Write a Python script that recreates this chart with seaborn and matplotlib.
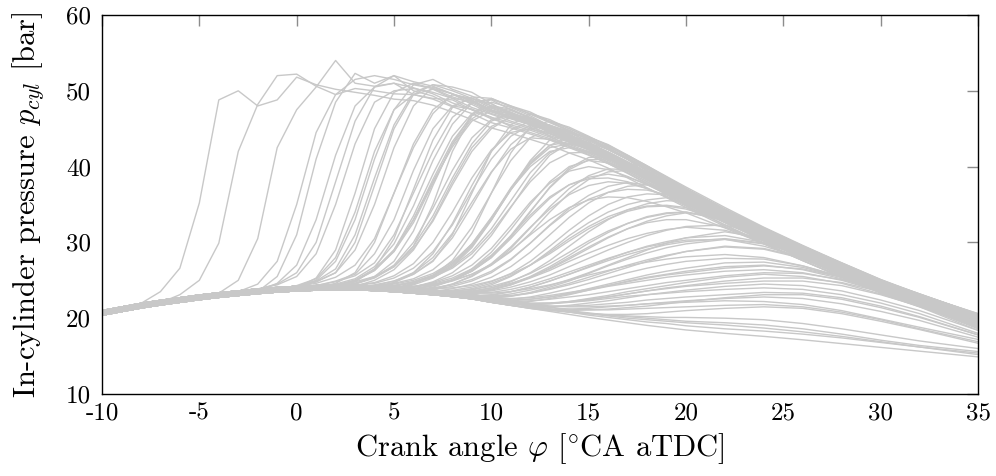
import matplotlib
matplotlib.use("Agg")
import matplotlib.pyplot as plt
import pandas as pd
import seaborn as sns

# crank angle grid [°CA aTDC]
CRANK_ANGLE = [-10, -8, -7, -6, -5, -4, -3, -2, -1, 0, 1, 2, 3, 4, 5, 6, 7, 8, 9, 10,
               11, 12, 13, 14, 15, 16, 17, 18, 19, 20, 22, 24, 26, 28, 30, 32, 35]

# in-cylinder pressure traces [bar], one list per cycle
P01 = [21.0, 21.95, 23.5, 26.6, 35.2, 48.8, 50.0, 48.0, 48.8, 51.8, 50.8, 50.2, 49.8, 49.4, 48.9, 48.7, 48.1, 47.2, 46.2, 45.1, 44.4, 43.6, 42.8, 41.8, 40.9, 39.8, 38.5, 37.2, 35.9, 34.6, 32.1, 29.8, 27.6, 25.5, 23.5, 21.8, 19.5]
P02 = [20.7, 21.65, 22.05, 23.1, 25.0, 29.9, 42.0, 48.2, 52.0, 52.2, 50.6, 49.5, 50.3, 50.0, 49.6, 49.5, 48.9, 47.9, 47.0, 45.8, 45.1, 44.3, 43.5, 42.5, 41.5, 40.4, 39.2, 37.8, 36.5, 35.1, 32.7, 30.3, 28.1, 25.9, 23.9, 22.2, 19.8]
P03 = [20.4, 21.35, 21.75, 22.1, 22.45, 23.3, 25.0, 30.5, 42.5, 47.5, 50.5, 54.0, 51.0, 50.6, 51.0, 50.4, 49.6, 48.4, 47.5, 46.3, 45.5, 44.8, 43.9, 42.9, 42.0, 40.8, 39.6, 38.2, 36.9, 35.5, 33.0, 30.6, 28.4, 26.2, 24.1, 22.4, 20.0]
P04 = [20.7, 21.65, 22.05, 22.4, 22.75, 23.05, 23.5, 24.5, 27.5, 35.0, 44.5, 49.5, 51.5, 52.0, 51.5, 50.8, 50.3, 49.6, 48.2, 47.0, 46.3, 45.5, 44.6, 43.6, 42.6, 41.5, 40.2, 38.8, 37.4, 36.1, 33.5, 31.1, 28.8, 26.6, 24.5, 22.7, 20.3]
P05 = [20.4, 21.35, 21.75, 22.1, 22.45, 22.75, 23.0, 23.6, 24.6, 27.0, 33.0, 41.5, 48.0, 50.5, 51.0, 49.5, 50.2, 49.0, 48.6, 47.3, 46.5, 45.7, 44.8, 43.8, 42.8, 41.7, 40.4, 39.0, 37.6, 36.2, 33.7, 31.2, 29.0, 26.7, 24.6, 22.9, 20.4]
P06 = [21.0, 21.95, 22.35, 22.7, 23.05, 23.35, 23.6, 23.85, 24.4, 25.5, 28.5, 35.0, 43.0, 48.5, 50.0, 50.3, 49.8, 49.0, 47.8, 46.9, 46.0, 45.2, 44.4, 43.4, 42.4, 41.2, 40.0, 38.6, 37.2, 35.9, 33.3, 30.9, 28.7, 26.4, 24.4, 22.6, 20.2]
P07 = [20.7, 21.65, 22.05, 22.4, 22.75, 23.05, 23.3, 23.55, 23.75, 24.3, 25.2, 28.0, 34.0, 42.0, 47.5, 49.5, 49.0, 48.8, 47.5, 46.5, 45.3, 44.5, 43.7, 42.7, 41.8, 40.6, 39.4, 38.0, 36.7, 35.3, 32.8, 30.4, 28.2, 26.0, 24.0, 22.3, 19.9]
P08 = [20.4, 21.35, 21.75, 22.1, 22.45, 22.75, 23.0, 23.5, 25.5, 31.0, 41.0, 48.5, 52.3, 51.0, 52.0, 50.0, 49.3, 48.0, 47.6, 46.5, 45.8, 45.0, 44.1, 43.2, 42.2, 41.0, 39.8, 38.4, 37.1, 35.7, 33.2, 30.7, 28.5, 26.3, 24.3, 22.5, 20.1]
P09 = [21.0, 21.95, 22.35, 22.7, 23.05, 23.35, 23.6, 23.85, 24.05, 24.2, 24.8, 26.0, 30.0, 37.5, 45.0, 49.5, 50.8, 50.5, 49.8, 48.3, 47.0, 45.9, 45.0, 44.1, 43.1, 41.9, 40.6, 39.2, 37.8, 36.4, 33.9, 31.4, 29.1, 26.8, 24.8, 23.0, 20.5]
P10 = [20.4, 21.35, 21.75, 22.1, 22.45, 22.75, 23.0, 23.25, 23.45, 23.6, 24.0, 24.6, 26.0, 30.0, 36.5, 43.0, 47.5, 49.5, 49.0, 48.0, 47.2, 46.0, 44.4, 43.4, 42.4, 41.2, 40.0, 38.6, 37.2, 35.9, 33.3, 30.9, 28.7, 26.4, 24.4, 22.6, 20.2]
P11 = [20.7, 21.65, 22.05, 22.4, 22.75, 23.05, 23.3, 23.55, 23.75, 23.9, 24.3, 24.9, 25.8, 28.5, 33.0, 39.5, 45.0, 48.0, 49.0, 48.3, 46.8, 45.5, 44.0, 42.7, 41.8, 40.6, 39.4, 38.0, 36.7, 35.3, 32.8, 30.4, 28.2, 26.0, 24.0, 22.3, 19.9]
P12 = [21.0, 21.95, 22.35, 22.7, 23.05, 23.35, 23.6, 23.85, 24.05, 24.2, 24.3, 24.8, 25.6, 27.3, 31.0, 36.5, 42.0, 46.5, 48.5, 48.8, 47.5, 46.5, 45.4, 44.0, 42.8, 41.7, 40.4, 39.0, 37.6, 36.2, 33.7, 31.2, 29.0, 26.7, 24.6, 22.9, 20.4]
P13 = [20.4, 21.35, 21.75, 22.1, 22.45, 22.75, 23.0, 23.25, 23.45, 23.6, 23.7, 24.2, 24.9, 26.3, 29.0, 33.5, 39.0, 44.0, 47.0, 48.0, 47.6, 46.4, 45.2, 44.0, 42.4, 41.2, 40.0, 38.6, 37.2, 35.9, 33.3, 30.9, 28.7, 26.4, 24.4, 22.6, 20.2]
P14 = [20.7, 21.65, 22.05, 22.4, 22.75, 23.05, 23.3, 23.55, 23.75, 23.9, 24.0, 24.05, 24.6, 25.4, 27.0, 30.0, 34.5, 39.5, 43.8, 46.2, 47.0, 46.3, 45.3, 44.2, 43.0, 41.7, 40.2, 38.8, 37.4, 36.0, 33.4, 31.0, 28.7, 26.5, 24.4, 22.6, 20.1]
P15 = [21.0, 21.95, 22.35, 22.7, 23.05, 23.35, 23.6, 23.85, 24.05, 24.2, 24.3, 24.35, 24.8, 25.5, 26.8, 29.5, 35.0, 42.0, 46.8, 49.0, 48.0, 47.2, 45.9, 44.8, 43.6, 42.4, 41.1, 39.4, 38.0, 36.6, 34.0, 31.5, 29.3, 27.0, 24.9, 23.1, 20.6]
P16 = [20.4, 21.35, 21.75, 22.1, 22.45, 22.75, 23.0, 23.25, 23.45, 23.6, 23.7, 23.75, 23.75, 24.1, 24.7, 26.0, 28.5, 32.5, 37.5, 42.0, 44.8, 46.0, 45.5, 44.5, 43.3, 41.5, 40.0, 38.4, 37.1, 35.7, 33.2, 30.7, 28.5, 26.3, 24.3, 22.5, 20.1]
P17 = [20.7, 21.65, 22.05, 22.4, 22.75, 23.05, 23.3, 23.55, 23.75, 23.9, 24.0, 24.05, 24.05, 24.4, 24.9, 25.8, 27.5, 31.0, 36.5, 42.0, 45.5, 47.0, 46.2, 45.0, 43.8, 42.5, 41.0, 39.0, 37.4, 35.9, 33.1, 30.5, 28.1, 25.8, 23.7, 21.9, 19.3]
P18 = [21.0, 21.95, 22.35, 22.7, 23.05, 23.35, 23.6, 23.85, 24.05, 24.2, 24.3, 24.35, 24.35, 24.25, 24.6, 25.2, 26.4, 28.5, 32.0, 36.5, 40.8, 43.8, 45.0, 44.6, 43.6, 42.3, 41.0, 39.5, 38.0, 36.6, 34.0, 31.5, 29.2, 26.9, 24.8, 23.0, 20.5]
P19 = [20.4, 21.35, 21.75, 22.1, 22.45, 22.75, 23.0, 23.25, 23.45, 23.6, 23.7, 23.75, 23.75, 23.65, 24.0, 24.6, 25.6, 27.2, 29.8, 33.3, 37.0, 40.0, 42.0, 42.5, 42.0, 41.0, 39.8, 38.5, 37.1, 35.8, 33.2, 30.8, 28.5, 26.2, 24.1, 22.3, 19.8]
P20 = [20.4, 21.35, 21.75, 22.1, 22.45, 22.75, 23.0, 23.25, 23.45, 23.6, 23.7, 24.0, 24.5, 25.5, 27.5, 31.5, 37.5, 43.0, 46.8, 48.5, 47.8, 46.7, 45.4, 44.2, 43.0, 41.8, 40.4, 39.0, 37.6, 36.2, 33.6, 31.1, 28.9, 26.6, 24.5, 22.7, 20.3]
P21 = [20.7, 21.65, 22.05, 22.4, 22.75, 23.05, 23.3, 23.55, 23.75, 24.2, 24.8, 26.0, 29.0, 35.0, 42.5, 48.0, 50.5, 49.6, 48.8, 47.4, 46.4, 45.6, 44.7, 43.7, 42.7, 41.5, 40.2, 38.8, 37.4, 36.1, 33.5, 31.1, 28.8, 26.6, 24.5, 22.7, 20.3]
P22 = [20.7, 21.65, 22.05, 22.4, 22.75, 23.05, 23.3, 23.55, 23.75, 23.9, 24.0, 24.05, 24.05, 23.95, 24.3, 24.8, 25.6, 26.8, 28.8, 31.8, 35.5, 39.2, 41.8, 43.0, 42.4, 41.3, 40.0, 38.6, 37.2, 35.8, 33.2, 30.8, 28.5, 26.3, 24.2, 22.4, 20.0]
P23 = [20.4, 21.35, 21.75, 22.1, 22.45, 22.75, 23.0, 23.25, 23.45, 23.6, 23.7, 23.75, 23.75, 23.65, 23.5, 23.8, 24.3, 25.0, 26.2, 28.0, 30.7, 34.0, 37.3, 39.8, 41.2, 41.3, 40.5, 39.3, 38.0, 36.6, 33.9, 31.3, 28.9, 26.6, 24.4, 22.5, 20.0]
P24 = [21.0, 21.95, 22.35, 22.7, 23.05, 23.35, 23.6, 23.85, 24.05, 24.2, 24.3, 24.35, 24.35, 24.25, 24.1, 24.2, 24.5, 25.0, 25.8, 27.0, 28.8, 31.2, 34.0, 36.5, 38.3, 39.3, 39.5, 38.8, 37.7, 36.5, 33.9, 31.4, 29.0, 26.7, 24.6, 22.7, 20.1]
P25 = [20.7, 21.65, 22.05, 22.4, 22.75, 23.05, 23.3, 23.55, 23.75, 23.9, 24.0, 24.05, 24.05, 23.95, 23.8, 24.1, 24.7, 25.6, 27.0, 29.2, 32.2, 35.3, 37.8, 39.4, 40.0, 39.6, 38.7, 37.6, 36.4, 35.1, 32.6, 30.2, 27.9, 25.7, 23.6, 21.8, 19.4]
P26 = [20.4, 21.35, 21.75, 22.1, 22.45, 22.75, 23.0, 23.25, 23.45, 23.6, 23.7, 23.75, 23.75, 23.65, 23.5, 23.3, 23.5, 23.9, 24.5, 25.4, 26.8, 28.7, 31.0, 33.3, 35.2, 36.6, 37.4, 37.6, 37.2, 36.4, 34.0, 31.5, 29.1, 26.8, 24.6, 22.7, 20.0]
P27 = [21.0, 21.95, 22.35, 22.7, 23.05, 23.35, 23.6, 23.85, 24.05, 24.2, 24.3, 24.35, 24.35, 24.25, 24.5, 25.0, 25.9, 27.4, 29.8, 33.2, 37.2, 40.6, 42.8, 43.3, 42.4, 41.2, 39.8, 38.3, 36.9, 35.5, 32.9, 30.4, 28.1, 25.8, 23.7, 21.9, 19.3]
P28 = [20.7, 21.65, 22.05, 22.4, 22.75, 23.05, 23.3, 23.55, 23.75, 23.9, 24.0, 24.05, 24.05, 23.95, 23.8, 23.9, 24.3, 24.9, 25.8, 27.1, 28.9, 31.0, 33.0, 34.6, 35.6, 36.0, 35.9, 35.4, 34.7, 33.9, 31.9, 29.8, 27.8, 25.8, 23.8, 22.0, 19.4]
P29 = [20.4, 21.35, 21.75, 22.1, 22.45, 22.75, 23.0, 23.25, 23.45, 23.6, 23.7, 23.75, 23.75, 23.65, 23.5, 23.3, 23.1, 23.2, 23.5, 24.0, 24.8, 26.0, 27.6, 29.5, 31.4, 33.0, 34.3, 35.1, 35.5, 35.4, 33.8, 31.6, 29.4, 27.1, 24.9, 23.0, 20.2]
P30 = [21.0, 21.95, 22.35, 22.7, 23.05, 23.35, 23.6, 23.85, 24.05, 24.2, 24.3, 24.35, 24.35, 24.25, 24.1, 24.2, 24.6, 25.3, 26.5, 28.3, 30.8, 33.6, 36.0, 37.6, 38.4, 38.5, 38.0, 37.1, 36.0, 34.8, 32.3, 29.9, 27.6, 25.4, 23.3, 21.5, 19.0]
P31 = [20.7, 21.65, 22.05, 22.4, 22.75, 23.05, 23.3, 23.55, 23.75, 23.9, 24.0, 24.05, 24.05, 23.95, 23.8, 23.6, 23.4, 23.5, 23.6, 24.0, 24.6, 25.4, 26.5, 27.8, 29.2, 30.6, 31.8, 32.8, 33.5, 33.9, 33.2, 31.5, 29.5, 27.3, 25.1, 23.1, 20.2]
P32 = [20.4, 21.35, 21.75, 22.1, 22.45, 22.75, 23.0, 23.25, 23.45, 23.6, 23.7, 23.75, 23.75, 23.65, 23.5, 23.3, 23.1, 22.85, 22.7, 22.9, 23.2, 23.7, 24.3, 25.1, 26.0, 27.0, 28.0, 29.0, 29.9, 30.6, 31.4, 30.6, 29.0, 27.0, 24.9, 23.0, 20.0]
P33 = [21.0, 21.95, 22.35, 22.7, 23.05, 23.35, 23.6, 23.85, 24.05, 24.2, 24.3, 24.35, 24.35, 24.25, 24.1, 23.9, 23.9, 24.0, 24.3, 24.9, 25.8, 27.0, 28.5, 30.2, 31.8, 33.1, 34.1, 34.7, 34.8, 34.4, 32.8, 30.7, 28.6, 26.4, 24.3, 22.4, 19.6]
P34 = [20.7, 21.65, 22.05, 22.4, 22.75, 23.05, 23.3, 23.55, 23.75, 23.9, 24.0, 24.05, 24.05, 23.95, 23.8, 23.6, 23.4, 23.15, 22.85, 22.9, 23.0, 23.3, 23.8, 24.4, 25.1, 25.9, 26.7, 27.5, 28.2, 28.8, 29.5, 29.2, 28.0, 26.4, 24.5, 22.7, 19.8]
P35 = [20.4, 21.35, 21.75, 22.1, 22.45, 22.75, 23.0, 23.25, 23.45, 23.6, 23.7, 23.75, 23.75, 23.65, 23.5, 23.3, 23.1, 23.0, 23.2, 23.7, 24.4, 25.4, 26.6, 28.0, 29.4, 30.7, 31.8, 32.6, 33.0, 33.0, 32.0, 30.2, 28.2, 26.1, 24.0, 22.1, 19.2]
P36 = [21.0, 21.95, 22.35, 22.7, 23.05, 23.35, 23.6, 23.85, 24.05, 24.2, 24.3, 24.35, 24.35, 24.25, 24.1, 23.9, 23.7, 23.45, 23.3, 23.4, 23.8, 24.4, 25.2, 26.1, 27.0, 27.9, 28.7, 29.4, 29.9, 30.3, 30.4, 29.5, 28.0, 26.2, 24.2, 22.3, 19.3]
P37 = [20.4, 21.35, 21.75, 22.1, 22.45, 22.75, 23.0, 23.25, 23.45, 23.6, 23.7, 23.75, 23.75, 23.65, 23.5, 23.3, 23.1, 22.85, 22.55, 22.3, 22.3, 22.5, 22.8, 23.3, 23.9, 24.5, 25.1, 25.7, 26.2, 26.6, 27.3, 27.4, 26.7, 25.4, 23.8, 22.1, 19.4]
P38 = [20.7, 21.65, 22.05, 22.4, 22.75, 23.05, 23.3, 23.55, 23.75, 23.9, 24.0, 24.05, 24.05, 23.95, 23.8, 23.6, 23.4, 23.15, 22.85, 22.4, 22.0, 21.9, 22.0, 22.2, 22.5, 22.8, 23.2, 23.6, 24.0, 24.3, 24.9, 25.3, 25.3, 24.7, 23.5, 22.0, 19.0]
P39 = [20.4, 21.35, 21.75, 22.1, 22.45, 22.75, 23.0, 23.25, 23.45, 23.6, 23.7, 23.75, 23.75, 23.65, 23.5, 23.3, 23.1, 22.85, 22.55, 22.1, 21.7, 21.3, 21.1, 21.0, 21.1, 21.2, 21.4, 21.6, 21.9, 22.2, 22.7, 23.1, 23.1, 22.5, 21.4, 20.1, 17.8]
P40 = [21.0, 21.95, 22.35, 22.7, 23.05, 23.35, 23.6, 23.85, 24.05, 24.2, 24.3, 24.35, 24.35, 24.25, 24.1, 23.9, 23.7, 23.45, 23.15, 22.7, 22.6, 22.7, 23.0, 23.4, 23.8, 24.3, 24.8, 25.3, 25.7, 26.0, 26.6, 26.9, 26.5, 25.4, 23.8, 22.0, 18.9]
P41 = [20.7, 21.65, 22.05, 22.4, 22.75, 23.05, 23.3, 23.55, 23.75, 23.9, 24.0, 24.05, 24.05, 23.95, 23.8, 23.6, 23.4, 23.15, 22.85, 22.4, 22.0, 21.6, 21.2, 20.9, 20.6, 20.5, 20.5, 20.6, 20.8, 21.0, 21.3, 21.5, 21.3, 20.6, 19.6, 18.5, 16.7]
P42 = [20.4, 21.35, 21.75, 22.1, 22.45, 22.75, 23.0, 23.25, 23.45, 23.6, 23.7, 23.75, 23.75, 23.65, 23.5, 23.3, 23.1, 22.85, 22.55, 22.1, 21.7, 21.5, 21.5, 21.7, 22.0, 22.3, 22.7, 23.1, 23.4, 23.7, 24.2, 24.5, 24.3, 23.6, 22.4, 21.0, 18.4]
P43 = [21.0, 21.95, 22.35, 22.7, 23.05, 23.35, 23.6, 23.85, 24.05, 24.2, 24.3, 24.35, 24.35, 24.25, 24.1, 23.9, 23.7, 23.45, 23.15, 22.7, 22.3, 21.9, 21.6, 21.5, 21.5, 21.6, 21.7, 21.9, 22.0, 22.1, 22.3, 22.2, 21.8, 21.0, 19.9, 18.8, 17.2]
P44 = [20.7, 21.65, 22.05, 22.4, 22.75, 23.05, 23.3, 23.55, 23.75, 23.9, 24.0, 24.05, 24.05, 23.95, 23.8, 23.6, 23.4, 23.15, 22.85, 22.4, 22.2, 22.3, 22.5, 22.8, 23.1, 23.5, 23.9, 24.3, 24.7, 25.0, 25.6, 26.0, 25.9, 25.1, 23.8, 22.2, 19.3]
P45 = [20.4, 21.35, 21.75, 22.1, 22.45, 22.75, 23.0, 23.25, 23.45, 23.6, 23.7, 23.75, 23.75, 23.65, 23.5, 23.3, 23.1, 22.85, 22.55, 22.1, 21.7, 21.3, 20.9, 20.5, 20.1, 19.75, 19.4, 19.05, 18.75, 18.45, 18.0, 17.6, 17.15, 16.65, 16.15, 15.65, 14.9]
P46 = [20.7, 21.65, 22.05, 22.4, 22.75, 23.05, 23.3, 23.55, 23.75, 23.9, 24.0, 24.05, 24.05, 23.95, 23.8, 23.6, 23.4, 23.15, 22.85, 22.4, 22.0, 21.6, 21.2, 20.8, 20.4, 20.1, 19.8, 19.5, 19.3, 19.0, 18.6, 18.3, 17.9, 17.4, 16.8, 16.2, 15.4]
P47 = [21.0, 21.95, 22.35, 22.7, 23.05, 23.35, 23.6, 23.85, 24.05, 24.2, 24.3, 24.35, 24.35, 24.25, 24.1, 23.9, 23.7, 23.45, 23.15, 22.7, 22.3, 21.9, 21.5, 21.0, 20.7, 20.4, 20.2, 20.0, 19.8, 19.6, 19.4, 19.1, 18.6, 17.9, 17.1, 16.4, 15.6]
P48 = [20.4, 21.35, 21.75, 22.1, 22.45, 22.75, 23.0, 23.25, 23.45, 23.6, 23.7, 23.75, 23.75, 23.65, 23.5, 23.3, 23.1, 22.85, 22.55, 22.1, 21.7, 21.3, 21.0, 20.8, 20.6, 20.4, 20.3, 20.2, 20.1, 20.1, 20.0, 19.8, 19.3, 18.6, 17.8, 17.0, 16.0]
P49 = [20.4, 21.35, 21.75, 22.1, 22.45, 22.75, 23.0, 23.25, 23.45, 24.0, 25.3, 29.0, 36.5, 45.0, 49.8, 51.0, 50.3, 49.2, 48.4, 47.2, 46.4, 45.6, 44.7, 43.7, 42.7, 41.5, 40.2, 38.8, 37.4, 36.1, 33.5, 31.1, 28.8, 26.6, 24.5, 22.7, 20.3]
P50 = [21.0, 21.95, 22.35, 22.7, 23.05, 23.35, 23.6, 23.85, 24.05, 24.2, 24.6, 25.4, 27.0, 30.5, 36.5, 42.5, 47.0, 49.5, 48.7, 47.5, 46.6, 45.7, 44.6, 43.5, 42.5, 41.3, 40.0, 38.6, 37.2, 35.9, 33.3, 30.9, 28.6, 26.4, 24.3, 22.5, 20.1]
P51 = [20.7, 21.65, 22.05, 22.4, 22.75, 23.05, 23.3, 23.55, 23.75, 23.9, 24.0, 24.4, 25.0, 26.3, 28.8, 33.0, 38.0, 42.6, 46.0, 47.4, 47.0, 46.0, 44.9, 43.8, 42.6, 41.3, 39.9, 38.5, 37.1, 35.7, 33.1, 30.7, 28.4, 26.2, 24.2, 22.4, 19.9]
P52 = [20.4, 21.35, 21.75, 22.1, 22.45, 22.75, 23.0, 23.25, 23.45, 23.6, 23.7, 23.75, 24.2, 25.0, 26.4, 29.0, 33.0, 38.0, 42.5, 45.3, 46.5, 46.0, 45.0, 43.9, 42.8, 41.6, 40.3, 38.9, 37.5, 36.1, 33.5, 31.0, 28.7, 26.5, 24.4, 22.6, 20.1]
P53 = [21.0, 21.95, 22.35, 22.7, 23.05, 23.35, 23.6, 23.85, 24.05, 24.2, 24.3, 24.35, 24.35, 24.6, 25.3, 26.6, 28.8, 32.3, 36.8, 41.0, 44.0, 45.5, 45.1, 44.2, 43.1, 41.9, 40.6, 39.2, 37.8, 36.4, 33.8, 31.3, 29.0, 26.7, 24.6, 22.8, 20.3]
P54 = [20.7, 21.65, 22.05, 22.4, 22.75, 23.05, 23.3, 23.55, 23.75, 23.9, 24.0, 24.05, 24.05, 24.3, 24.9, 26.0, 28.0, 31.2, 35.3, 39.3, 42.3, 43.8, 43.6, 42.7, 41.6, 40.4, 39.1, 37.7, 36.3, 34.9, 32.3, 29.9, 27.6, 25.4, 23.4, 21.6, 19.1]
P55 = [20.4, 21.35, 21.75, 22.1, 22.45, 22.75, 23.0, 23.25, 23.45, 23.6, 23.7, 23.75, 23.75, 23.65, 23.9, 24.4, 25.3, 26.8, 29.3, 32.9, 37.0, 40.8, 43.5, 44.4, 43.9, 42.9, 41.5, 40.1, 38.6, 37.1, 34.4, 31.9, 29.5, 27.2, 25.0, 23.2, 20.5]
P56 = [21.0, 21.95, 22.35, 22.7, 23.05, 23.35, 23.6, 23.85, 24.05, 24.2, 24.3, 24.35, 24.35, 24.25, 24.3, 24.7, 25.4, 26.6, 28.5, 31.3, 34.7, 38.0, 40.5, 41.8, 41.9, 41.2, 40.1, 38.8, 37.4, 36.0, 33.4, 30.9, 28.5, 26.2, 24.1, 22.2, 19.6]
P57 = [20.4, 21.35, 21.75, 22.1, 22.45, 22.75, 23.0, 23.25, 23.45, 23.6, 23.7, 23.75, 23.75, 23.65, 23.5, 23.6, 24.1, 25.0, 26.5, 28.7, 31.7, 35.0, 38.0, 40.0, 40.8, 40.5, 39.6, 38.4, 37.1, 35.8, 33.2, 30.7, 28.3, 26.0, 23.9, 22.0, 19.4]
P58 = [20.7, 21.65, 22.05, 22.4, 22.75, 23.05, 23.3, 23.55, 23.75, 23.9, 24.0, 24.05, 24.05, 23.95, 23.8, 23.9, 24.3, 25.0, 26.2, 28.0, 30.5, 33.3, 35.8, 37.6, 38.6, 39.0, 38.6, 37.7, 36.6, 35.4, 32.8, 30.3, 27.9, 25.6, 23.5, 21.6, 19.0]
P59 = [21.0, 21.95, 22.35, 22.7, 23.05, 23.35, 23.6, 23.85, 24.05, 24.2, 24.3, 24.35, 24.35, 24.25, 24.1, 23.9, 24.0, 24.4, 25.1, 26.2, 27.8, 29.9, 32.2, 34.2, 35.7, 36.6, 37.0, 36.9, 36.3, 35.5, 33.3, 31.0, 28.7, 26.5, 24.3, 22.4, 19.7]
P60 = [20.4, 21.35, 21.75, 22.1, 22.45, 22.75, 23.0, 23.25, 23.45, 23.6, 23.7, 23.75, 23.75, 23.65, 23.5, 23.3, 23.3, 23.5, 23.9, 24.6, 25.6, 27.0, 28.7, 30.5, 32.1, 33.4, 34.3, 34.8, 34.9, 34.6, 33.0, 30.9, 28.7, 26.5, 24.4, 22.4, 19.5]
P61 = [20.7, 21.65, 22.05, 22.4, 22.75, 23.05, 23.3, 23.55, 23.75, 23.9, 24.0, 24.05, 24.05, 23.95, 23.8, 23.6, 23.4, 23.3, 23.4, 23.8, 24.4, 25.3, 26.3, 27.5, 28.6, 29.6, 30.5, 31.2, 31.7, 32.0, 31.6, 30.2, 28.4, 26.4, 24.4, 22.5, 19.6]
P62 = [21.0, 21.95, 22.35, 22.7, 23.05, 23.35, 23.6, 23.85, 24.05, 24.2, 24.3, 24.35, 24.35, 24.25, 24.1, 23.9, 23.7, 23.45, 23.3, 23.3, 23.5, 23.9, 24.4, 25.0, 25.7, 26.3, 26.9, 27.4, 27.8, 28.1, 28.4, 28.0, 26.9, 25.4, 23.7, 21.9, 19.0]
P63 = [20.4, 21.35, 21.75, 22.1, 22.45, 22.75, 23.0, 23.25, 23.45, 23.6, 23.7, 23.75, 23.75, 23.65, 23.5, 23.3, 23.1, 22.85, 22.8, 23.0, 23.5, 24.1, 24.9, 25.8, 26.7, 27.6, 28.4, 29.1, 29.7, 30.1, 30.5, 29.9, 28.5, 26.7, 24.7, 22.7, 19.6]
P64 = [20.7, 21.65, 22.05, 22.4, 22.75, 23.05, 23.3, 23.55, 23.75, 23.9, 24.0, 24.05, 24.05, 23.95, 23.8, 23.6, 23.4, 23.15, 22.85, 22.5, 22.4, 22.5, 22.8, 23.2, 23.7, 24.2, 24.6, 25.0, 25.4, 25.7, 26.2, 26.4, 26.0, 25.0, 23.5, 21.7, 18.6]
P65 = [21.0, 21.95, 22.35, 22.7, 23.05, 23.35, 23.6, 23.85, 24.05, 24.2, 24.3, 24.35, 24.35, 24.25, 24.1, 23.9, 23.7, 23.45, 23.15, 22.7, 22.3, 22.0, 22.0, 22.1, 22.3, 22.6, 22.9, 23.1, 23.3, 23.5, 23.8, 24.0, 23.8, 23.1, 22.0, 20.6, 18.0]
P66 = [20.4, 21.35, 21.75, 22.1, 22.45, 22.75, 23.0, 23.25, 23.45, 23.6, 23.7, 23.75, 23.75, 23.65, 23.5, 23.3, 23.1, 22.85, 22.55, 22.1, 21.7, 21.4, 21.2, 21.2, 21.3, 21.5, 21.7, 21.9, 22.1, 22.3, 22.6, 22.8, 22.6, 21.9, 20.9, 19.7, 17.5]
P67 = [20.4, 21.35, 21.75, 22.1, 22.45, 22.75, 23.0, 23.25, 23.45, 23.6, 23.7, 23.75, 23.75, 23.65, 23.5, 23.3, 23.1, 22.85, 22.55, 22.4, 22.5, 22.8, 23.3, 23.9, 24.6, 25.3, 26.0, 26.6, 27.1, 27.5, 27.9, 27.8, 26.9, 25.5, 23.8, 22.0, 19.2]
P68 = [20.7, 21.65, 22.05, 22.4, 22.75, 23.05, 23.3, 23.55, 23.75, 23.9, 24.0, 24.05, 24.05, 23.95, 23.8, 23.6, 23.4, 23.15, 22.85, 22.4, 22.0, 21.6, 21.2, 20.8, 20.6, 20.3, 20.0, 19.8, 19.6, 19.4, 19.1, 18.7, 18.2, 17.6, 16.9, 16.2, 15.2]
P69 = [21.0, 21.95, 22.35, 22.7, 23.05, 23.35, 23.6, 23.85, 24.05, 24.2, 24.9, 26.5, 31.0, 38.5, 45.5, 49.8, 50.8, 50.0, 49.0, 47.7, 46.8, 46.0, 45.1, 44.1, 43.1, 41.9, 40.6, 39.2, 37.8, 36.4, 33.8, 31.4, 29.1, 26.8, 24.7, 22.9, 20.4]
P70 = [20.4, 21.35, 21.75, 22.1, 22.45, 22.75, 23.0, 23.25, 23.45, 23.6, 23.7, 24.2, 25.0, 26.5, 29.0, 33.0, 38.3, 43.3, 46.7, 47.8, 47.0, 45.9, 44.8, 43.7, 42.6, 41.4, 40.1, 38.7, 37.3, 36.0, 33.4, 31.0, 28.7, 26.5, 24.4, 22.6, 20.1]
P71 = [20.7, 21.65, 22.05, 22.4, 22.75, 23.05, 23.3, 23.55, 23.75, 23.9, 24.0, 24.05, 24.5, 25.3, 26.8, 29.5, 33.5, 38.5, 43.0, 46.0, 46.9, 46.3, 45.2, 44.1, 43.0, 41.8, 40.5, 39.1, 37.7, 36.3, 33.7, 31.2, 28.9, 26.7, 24.6, 22.8, 20.3]
P72 = [21.0, 21.95, 22.35, 22.7, 23.05, 23.35, 23.6, 23.85, 24.05, 24.2, 24.3, 24.35, 24.35, 24.7, 25.6, 27.2, 30.0, 34.0, 38.5, 42.2, 44.5, 45.0, 44.3, 43.3, 42.2, 41.0, 39.7, 38.3, 36.9, 35.5, 32.9, 30.4, 28.1, 25.9, 23.8, 21.9, 19.2]
P73 = [20.4, 21.35, 21.75, 22.1, 22.45, 22.75, 23.0, 23.25, 23.45, 23.6, 23.7, 23.75, 23.75, 23.65, 23.9, 24.5, 25.6, 27.6, 31.2, 36.5, 41.8, 45.3, 46.0, 45.2, 44.0, 42.7, 41.3, 39.9, 38.5, 37.1, 34.4, 31.9, 29.5, 27.2, 25.0, 23.2, 20.5]
P74 = [20.7, 21.65, 22.05, 22.4, 22.75, 23.05, 23.3, 23.55, 23.75, 23.9, 24.0, 24.05, 24.05, 23.95, 24.2, 24.7, 25.5, 27.0, 29.5, 33.0, 37.0, 40.3, 42.5, 43.0, 42.4, 41.3, 40.0, 38.6, 37.2, 35.8, 33.1, 30.6, 28.3, 26.0, 23.9, 22.1, 19.5]
P75 = [20.4, 21.35, 21.75, 22.1, 22.45, 22.75, 23.0, 23.25, 23.45, 23.6, 23.7, 23.75, 23.75, 23.65, 23.5, 23.4, 23.8, 24.5, 25.6, 27.2, 29.4, 32.0, 34.4, 36.3, 37.5, 38.0, 37.8, 37.1, 36.1, 35.0, 32.6, 30.2, 27.9, 25.7, 23.6, 21.8, 19.3]
P76 = [21.0, 21.95, 22.35, 22.7, 23.05, 23.35, 23.6, 23.85, 24.05, 24.2, 24.3, 24.35, 24.35, 24.25, 24.1, 23.9, 23.7, 23.6, 23.8, 24.2, 24.9, 25.9, 27.2, 28.7, 30.2, 31.5, 32.5, 33.3, 33.8, 34.0, 33.2, 31.3, 29.2, 27.0, 24.8, 22.8, 19.8]
P77 = [20.7, 21.65, 22.05, 22.4, 22.75, 23.05, 23.3, 23.55, 23.75, 23.9, 24.0, 24.05, 24.05, 23.95, 23.8, 23.6, 23.4, 23.15, 23.0, 23.1, 23.5, 24.1, 24.9, 25.8, 26.8, 27.8, 28.7, 29.5, 30.1, 30.6, 30.9, 30.0, 28.4, 26.5, 24.4, 22.5, 19.4]
P78 = [20.4, 21.35, 21.75, 22.1, 22.45, 22.75, 23.0, 23.25, 23.45, 23.6, 23.7, 23.75, 23.75, 23.65, 23.5, 23.3, 23.1, 22.85, 22.55, 22.1, 21.9, 21.8, 21.9, 22.1, 22.4, 22.8, 23.2, 23.6, 23.9, 24.2, 24.6, 24.9, 24.9, 24.3, 23.1, 21.6, 18.8]
P79 = [20.55, 21.5, 21.9, 22.25, 22.6, 22.9, 23.15, 23.4, 23.6, 23.75, 23.85, 24.3, 25.0, 26.4, 28.8, 32.6, 37.8, 42.9, 46.3, 47.9, 47.4, 46.4, 45.3, 44.2, 43.1, 41.9, 40.6, 39.2, 37.8, 36.4, 33.8, 31.3, 29.0, 26.8, 24.7, 22.8, 20.3]
P80 = [20.85, 21.8, 22.2, 22.55, 22.9, 23.2, 23.45, 23.7, 23.9, 24.05, 24.15, 24.2, 24.6, 25.4, 26.8, 29.2, 32.8, 37.6, 42.0, 45.0, 46.6, 46.2, 45.2, 44.0, 42.8, 41.5, 40.1, 38.7, 37.3, 35.9, 33.3, 30.8, 28.5, 26.3, 24.2, 22.4, 19.9]
P81 = [20.55, 21.5, 21.9, 22.25, 22.6, 22.9, 23.15, 23.4, 23.6, 23.75, 23.85, 23.9, 23.9, 24.1, 24.7, 25.8, 27.6, 30.6, 34.8, 39.2, 42.9, 45.0, 45.4, 44.7, 43.6, 42.4, 41.1, 39.7, 38.2, 36.8, 34.1, 31.6, 29.2, 26.9, 24.8, 22.9, 20.3]
P82 = [20.85, 21.8, 22.2, 22.55, 22.9, 23.2, 23.45, 23.7, 23.9, 24.05, 24.15, 24.2, 24.2, 24.1, 24.3, 24.8, 25.7, 27.2, 29.6, 33.0, 36.9, 40.4, 42.8, 43.9, 43.6, 42.6, 41.4, 40.0, 38.6, 37.1, 33.6, 30.8, 28.3, 26.0, 23.8, 22.0, 19.4]
P83 = [20.4, 21.35, 21.75, 22.1, 22.45, 22.75, 23.0, 23.25, 23.45, 23.6, 23.7, 23.75, 23.75, 23.65, 23.7, 24.1, 24.8, 26.0, 28.0, 30.9, 34.6, 38.4, 41.5, 43.1, 43.1, 42.3, 41.1, 39.8, 38.4, 37.0, 34.3, 31.8, 29.4, 27.1, 24.9, 23.0, 20.3]
P84 = [21.0, 21.95, 22.35, 22.7, 23.05, 23.35, 23.6, 23.85, 24.05, 24.2, 24.3, 24.35, 24.35, 24.25, 24.1, 24.1, 24.4, 25.1, 26.3, 28.2, 30.9, 34.1, 37.2, 39.6, 40.9, 41.0, 40.3, 39.2, 37.9, 36.6, 33.9, 31.3, 28.8, 26.4, 24.2, 22.2, 19.1]
P85 = [20.55, 21.5, 21.9, 22.25, 22.6, 22.9, 23.15, 23.4, 23.6, 23.75, 23.85, 23.9, 23.9, 23.8, 23.65, 23.6, 23.9, 24.5, 25.5, 27.0, 29.2, 31.9, 34.7, 37.1, 38.8, 39.7, 39.6, 38.9, 37.9, 36.7, 34.1, 31.6, 29.2, 26.9, 24.7, 22.8, 20.0]
P86 = [20.85, 21.8, 22.2, 22.55, 22.9, 23.2, 23.45, 23.7, 23.9, 24.05, 24.15, 24.2, 24.2, 24.1, 23.95, 23.75, 23.8, 24.2, 24.9, 26.0, 27.7, 29.9, 32.3, 34.5, 36.2, 37.4, 37.9, 37.6, 36.8, 35.8, 33.2, 30.6, 28.1, 25.8, 23.6, 21.6, 18.7]
P87 = [20.7, 21.65, 22.05, 22.4, 22.75, 23.05, 23.3, 23.55, 23.75, 23.9, 24.0, 24.05, 24.05, 23.95, 23.8, 23.6, 23.5, 23.7, 24.1, 24.8, 25.9, 27.5, 29.5, 31.6, 33.5, 35.0, 36.0, 36.4, 36.3, 35.8, 33.9, 31.6, 29.3, 27.0, 24.8, 22.8, 19.9]
P88 = [20.55, 21.5, 21.9, 22.25, 22.6, 22.9, 23.15, 23.4, 23.6, 23.75, 23.85, 23.9, 23.9, 23.8, 23.65, 23.45, 23.25, 23.2, 23.4, 23.8, 24.5, 25.5, 26.8, 28.3, 29.9, 31.3, 32.5, 33.4, 33.9, 34.0, 32.9, 30.9, 28.7, 26.5, 24.3, 22.4, 19.3]
P89 = [21.0, 21.95, 22.35, 22.7, 23.05, 23.35, 23.6, 23.85, 24.05, 24.2, 24.3, 24.35, 24.35, 24.25, 24.1, 23.9, 23.7, 23.45, 23.4, 23.6, 24.1, 24.8, 25.7, 26.8, 27.9, 29.0, 30.0, 30.9, 31.6, 32.1, 32.3, 31.0, 29.1, 27.0, 24.8, 22.8, 19.5]
P90 = [20.85, 21.8, 22.2, 22.55, 22.9, 23.2, 23.45, 23.7, 23.9, 24.05, 24.15, 24.2, 24.2, 24.1, 23.95, 23.75, 23.55, 23.3, 23.0, 22.8, 22.9, 23.3, 23.9, 24.6, 25.4, 26.2, 27.0, 27.7, 28.3, 28.8, 29.4, 29.1, 27.9, 26.2, 24.3, 22.4, 19.0]
P91 = [20.4, 21.35, 21.75, 22.1, 22.45, 22.75, 23.0, 23.25, 23.45, 23.6, 23.7, 23.75, 23.75, 23.65, 23.5, 23.3, 23.1, 22.85, 22.55, 22.1, 22.0, 22.2, 22.6, 23.1, 23.7, 24.3, 24.9, 25.4, 25.8, 26.2, 26.8, 27.0, 26.4, 25.2, 23.6, 21.8, 18.8]
P92 = [20.55, 21.5, 21.9, 22.25, 22.6, 22.9, 23.15, 23.4, 23.6, 23.75, 23.85, 23.9, 23.9, 23.8, 23.65, 23.45, 23.25, 23.0, 22.7, 22.25, 21.9, 21.8, 21.9, 22.2, 22.6, 23.0, 23.5, 23.9, 24.3, 24.7, 25.4, 25.8, 25.5, 24.6, 23.2, 21.5, 18.4]
P93 = [20.7, 21.65, 22.05, 22.4, 22.75, 23.05, 23.3, 23.55, 23.75, 23.9, 24.0, 24.05, 24.05, 23.95, 23.8, 23.6, 23.4, 23.15, 22.85, 22.4, 22.0, 21.7, 21.6, 21.6, 21.7, 21.9, 22.1, 22.4, 22.6, 22.8, 23.1, 23.4, 23.3, 22.7, 21.6, 20.2, 17.8]
P94 = [20.85, 21.8, 22.2, 22.55, 22.9, 23.2, 23.45, 23.7, 23.9, 24.05, 24.15, 24.5, 25.2, 26.8, 29.8, 34.8, 40.8, 45.6, 48.4, 48.9, 48.0, 46.9, 45.8, 44.7, 43.6, 42.4, 41.1, 39.7, 38.3, 36.9, 34.2, 31.7, 29.4, 27.1, 24.9, 23.0, 20.5]
P95 = [20.4, 21.35, 21.75, 22.1, 22.45, 22.75, 23.0, 23.25, 23.45, 23.6, 23.7, 24.1, 24.8, 26.5, 30.5, 37.0, 43.5, 47.8, 49.2, 49.0, 47.9, 47.0, 46.0, 45.0, 43.9, 42.8, 41.5, 40.1, 38.7, 37.3, 34.6, 32.0, 29.6, 27.3, 25.1, 23.2, 20.5]
P96 = [20.7, 21.65, 22.05, 22.4, 22.75, 23.05, 23.3, 23.55, 23.75, 24.2, 25.0, 27.5, 33.0, 41.0, 47.5, 50.8, 51.5, 50.2, 49.3, 48.0, 47.1, 46.3, 45.4, 44.4, 43.4, 42.2, 40.9, 39.5, 38.1, 36.7, 34.1, 31.6, 29.3, 27.0, 24.9, 23.1, 20.6]
P97 = [21.0, 21.95, 22.35, 22.7, 23.05, 23.35, 23.6, 23.85, 24.5, 26.0, 30.0, 38.0, 46.0, 50.5, 52.0, 51.2, 50.6, 49.6, 48.6, 47.4, 46.6, 45.8, 44.9, 43.9, 42.9, 41.7, 40.4, 39.0, 37.6, 36.2, 33.7, 31.2, 29.0, 26.7, 24.6, 22.9, 20.4]
P98 = [20.55, 21.5, 21.9, 22.25, 22.6, 22.9, 23.15, 23.4, 23.6, 23.75, 23.85, 23.9, 23.9, 23.8, 23.65, 23.45, 23.25, 23.0, 22.7, 22.6, 22.9, 23.4, 24.1, 24.9, 25.9, 26.9, 27.8, 28.6, 29.3, 29.8, 30.4, 29.8, 28.3, 26.4, 24.3, 22.3, 19.1]
P99 = [20.85, 21.8, 22.2, 22.55, 22.9, 23.2, 23.45, 23.7, 23.9, 24.05, 24.15, 24.2, 24.2, 24.1, 23.95, 23.75, 23.55, 23.3, 23.0, 22.55, 22.15, 21.75, 21.4, 21.2, 21.1, 21.1, 21.2, 21.3, 21.4, 21.5, 21.7, 21.8, 21.5, 20.8, 19.8, 18.6, 16.9]
P100 = [20.55, 21.5, 21.9, 22.25, 22.6, 22.9, 23.15, 23.4, 23.6, 23.75, 23.85, 23.9, 23.9, 23.8, 23.65, 23.45, 23.25, 23.3, 23.7, 24.4, 25.5, 27.0, 28.9, 30.9, 32.6, 34.0, 35.0, 35.6, 35.9, 35.8, 34.1, 31.8, 29.5, 27.2, 25.0, 23.0, 19.7]

CYCLES = [P01, P02, P03, P04, P05, P06, P07, P08, P09, P10, P11, P12, P13, P14, P15, P16,
          P17, P18, P19, P20, P21, P22, P23, P24, P25, P26, P27, P28, P29, P30, P31, P32,
          P33, P34, P35, P36, P37, P38, P39, P40, P41, P42, P43, P44, P45, P46, P47, P48,
          P49, P50, P51, P52, P53, P54, P55, P56, P57, P58, P59, P60, P61, P62, P63, P64,
          P65, P66, P67, P68, P69, P70, P71, P72, P73, P74, P75, P76, P77, P78, P79, P80,
          P81, P82, P83, P84, P85, P86, P87, P88, P89, P90, P91, P92, P93, P94, P95, P96,
          P97, P98, P99, P100]

X_TICKS = [-10, -5, 0, 5, 10, 15, 20, 25, 30, 35]
X_TICK_LABELS = ["-10", "-5", "0", "5", "10", "15", "20", "25", "30", "35"]
Y_TICKS = [10, 20, 30, 40, 50, 60]
Y_TICK_LABELS = ["10", "20", "30", "40", "50", "60"]

rows = []
for k, p in enumerate(CYCLES):
    if len(p) != len(CRANK_ANGLE):
        raise ValueError(f"cycle {k + 1} has {len(p)} values")
    for a, v in zip(CRANK_ANGLE, p):
        rows.append({"cycle": k, "angle": a, "pressure": v})
df = pd.DataFrame(rows)

sns.set_theme(style="white")
plt.rcParams.update({
    "font.family": ["cmr10", "DejaVu Serif"],
    "mathtext.fontset": "cm",
    "axes.unicode_minus": False,
    "axes.formatter.use_mathtext": True,
})

fig = plt.figure(figsize=(9.96, 4.76), dpi=100)
ax = fig.add_axes([102 / 996, 82 / 476, 876 / 996, 379 / 476])

sns.lineplot(data=df, x="angle", y="pressure", units="cycle", estimator=None,
             color="#c8c8c8", linewidth=1.0, sort=False, legend=False, ax=ax)

ax.set_xlim(-10, 35)
ax.set_ylim(10, 60)
ax.set_xticks(X_TICKS)
ax.set_xticklabels(X_TICK_LABELS)
ax.set_yticks(Y_TICKS)
ax.set_yticklabels(Y_TICK_LABELS)
ax.tick_params(direction="in", length=8, width=1.0, color="#8c8c8c",
               top=True, right=True, labelsize=18, labelcolor="black")
ax.tick_params(axis="x", pad=6)
ax.tick_params(axis="y", pad=8)
for s in ax.spines.values():
    s.set_color("black")
    s.set_linewidth(1.0)

ax.set_xlabel(r"Crank angle $\varphi$ [$^{\circ}$CA aTDC]", fontsize=22, labelpad=5, color="black")
ax.set_ylabel(r"In-cylinder pressure $p_{cyl}$ [bar]", fontsize=22, labelpad=14, color="black")

fig.savefig("out.png", dpi=100)
